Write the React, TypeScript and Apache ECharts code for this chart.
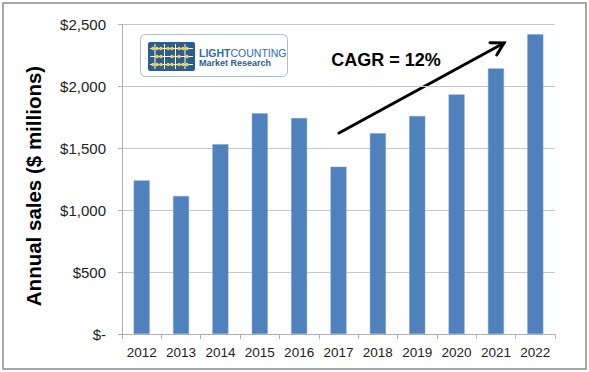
import React, { useEffect, useRef } from "react";
import * as echarts from "echarts";

const years = ["2012", "2013", "2014", "2015", "2016", "2017", "2018", "2019", "2020", "2021", "2022"];
const sales = [1240, 1114, 1531, 1781, 1743, 1350, 1620, 1759, 1934, 2144, 2419];
const yTicks = [0, 500, 1000, 1500, 2000, 2500];
const yTitle = "Annual sales ($ millions)";
const cagrLabel = "CAGR = 12%";

export default function App() {
  const ref = useRef<HTMLDivElement>(null);
  useEffect(() => {
    document.body.style.margin = "0";
    const chart = echarts.init(ref.current!, null, { renderer: "svg" });
    // arrow geometry (annotation)
    const x1 = 339, y1 = 133, x2 = 504, y2 = 43;
    const dx = x2 - x1, dy = y2 - y1;
    const len = Math.sqrt(dx * dx + dy * dy);
    const ux = dx / len, uy = dy / len;
    const hl = 14, ang = Math.PI / 6;
    const rot = (a: number) => [ux * Math.cos(a) - uy * Math.sin(a), ux * Math.sin(a) + uy * Math.cos(a)];
    const r1 = rot(ang), r2 = rot(-ang);
    const w1 = [x2 - hl * r1[0], y2 - hl * r1[1]];
    const w2 = [x2 - hl * r2[0], y2 - hl * r2[1]];

    const dotRows = [48.5, 56.5, 64.5];
    const dotCols = [153, 157, 161, 168, 172, 179, 183, 187];
    const iconChildren: any[] = [];
    dotRows.forEach((ry) => {
      iconChildren.push({ type: "line", shape: { x1: 150, y1: ry, x2: 193, y2: ry }, style: { stroke: "#ffffff", lineWidth: 1 } });
    });
    [155, 164.5, 175.5, 185].forEach((cx) => {
      iconChildren.push({ type: "line", shape: { x1: cx, y1: 44, x2: cx, y2: 69 }, style: { stroke: "#ffffff", lineWidth: 1 } });
    });
    dotRows.forEach((ry, ri) => {
      dotCols.forEach((cx, ci) => {
        if ((ri + ci) % 3 === 1 && ri === 1) return;
        iconChildren.push({ type: "circle", shape: { cx, cy: ry, r: 1.8 }, style: { fill: "#f2d04a" } });
      });
    });

    chart.setOption({
      animation: false,
      grid: { left: 122, right: 34, top: 24.3, bottom: 38 },
      xAxis: {
        type: "category",
        data: years,
        axisLine: { lineStyle: { color: "#b0b0b0" } },
        axisTick: { show: true, length: 5, lineStyle: { color: "#b0b0b0" } },
        axisLabel: { color: "#222", fontSize: 13.5, fontFamily: "Liberation Sans, Arial", margin: 11, interval: 0 },
      },
      yAxis: {
        type: "value",
        min: yTicks[0],
        max: yTicks[yTicks.length - 1],
        interval: 500,
        axisLine: { show: true, lineStyle: { color: "#b0b0b0" } },
        axisTick: { show: true, length: 4, lineStyle: { color: "#b0b0b0" } },
        splitLine: { lineStyle: { color: "#c8c8c8" } },
        axisLabel: {
          color: "#222",
          fontSize: 15,
          fontFamily: "Liberation Sans, Arial",
          margin: 16,
          formatter: (v: number) => (v === 0 ? "$-" : "$" + v.toLocaleString("en-US")),
        },
      },
      series: [
        {
          type: "bar",
          data: sales,
          barWidth: 16,
          itemStyle: { color: "#4f81bd", borderColor: "#7a9fd0", borderWidth: 0.5 },
        },
      ],
      graphic: [
        { type: "rect", shape: { x: 3, y: 3, width: 583, height: 366 }, style: { fill: "none", stroke: "#8c8c8c", lineWidth: 1.5 }, silent: true },
        {
          type: "text",
          x: 33,
          y: 186,
          rotation: Math.PI / 2,
          style: { text: yTitle, fontSize: 20.5, fontWeight: "bold", fontFamily: "Liberation Sans, Arial", fill: "#000", align: "center", verticalAlign: "middle" },
        },
        { type: "rect", shape: { x: 140.5, y: 34.5, width: 147, height: 42, r: 5 }, style: { fill: "#ffffff", stroke: "#a9bcd6", lineWidth: 1 } },
        { type: "rect", shape: { x: 148, y: 42, width: 47, height: 29, r: 2 }, style: { fill: "#2b5d8f" } },
        { type: "group", children: iconChildren },
        {
          type: "text",
          x: 199,
          y: 53,
          style: {
            text: "{b|LIGHT}{n|COUNTING}",
            verticalAlign: "middle",
            rich: {
              b: { fontSize: 10.5, fontWeight: "bold", fill: "#2a6dab", fontFamily: "Liberation Sans, Arial" },
              n: { fontSize: 10.5, fill: "#2a6dab", fontFamily: "Liberation Sans, Arial" },
            },
          },
        },
        {
          type: "text",
          x: 199,
          y: 63,
          style: { text: "Market Research", fontSize: 9, fontWeight: "bold", fill: "#2b5d8f", fontFamily: "Liberation Sans, Arial", verticalAlign: "middle" },
        },
        {
          type: "text",
          x: 386,
          y: 60,
          style: { text: cagrLabel, fontSize: 18, fontWeight: "bold", fill: "#000", fontFamily: "Liberation Sans, Arial", align: "center", verticalAlign: "middle" },
        },
        { type: "line", shape: { x1, y1, x2, y2 }, style: { stroke: "#000", lineWidth: 3, lineCap: "round" } },
        { type: "polyline", shape: { points: [w1, [x2, y2], w2] }, style: { stroke: "#000", lineWidth: 3, fill: "none", lineJoin: "miter", lineCap: "round" } },
      ],
    });
    return () => chart.dispose();
  }, []);
  return <div ref={ref} style={{ width: 589, height: 372 }} />;
}
